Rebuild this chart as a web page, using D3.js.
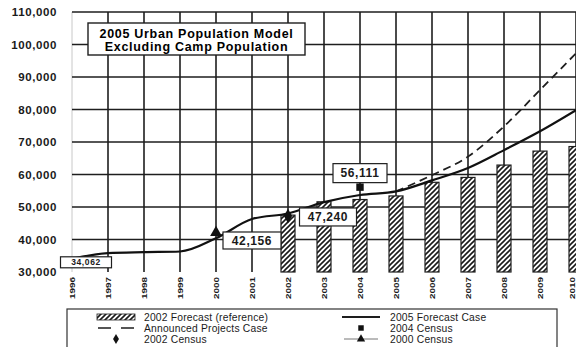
<!DOCTYPE html>
<meta charset="utf-8">
<style>
body { margin: 0; background: #fff; }
svg { font-family: "Liberation Sans", Arial, sans-serif; }
.grid line { stroke: #1e1e1e; stroke-width: 1.6px; }
.ytick { font-size: 11.5px; font-weight: bold; fill: #1a1a1a; letter-spacing: 0.6px; }
.xtick { font-size: 7.5px; font-weight: bold; fill: #1a1a1a; }
.lbl { font-weight: bold; fill: #1a1a1a; }
.leg { font-size: 10.3px; fill: #1a1a1a; letter-spacing: 0.2px; }
</style>
<body>
<svg width="576" height="347"></svg>
<script src="https://d3js.org/d3.v7.min.js"></script>
<script>

// data
var years = [1996, 1997, 1998, 1999, 2000, 2001, 2002, 2003, 2004, 2005, 2006, 2007, 2008, 2009, 2010];
var forecast2005 = [34062, 35800, 36100, 36300, 40400, 46300, 48000, 51500, 53700, 54800, 58200, 62000, 67500, 73300, 79800];
var announcedYears = [2005, 2006, 2007, 2008, 2009, 2010];
var announced = [54800, 59800, 65500, 74800, 86000, 97300];
var barYears = [2002, 2003, 2004, 2005, 2006, 2007, 2008, 2009, 2010];
var forecast2002 = [47500, 51600, 52300, 53400, 57600, 59100, 62900, 67200, 68600];
var census = [
  {year: 2000, value: 42156, sym: "triangle"},
  {year: 2002, value: 47240, sym: "diamond"},
  {year: 2004, value: 56111, sym: "square"}
];
var yTicks = [30000, 40000, 50000, 60000, 70000, 80000, 90000, 100000, 110000];

var svg = d3.select("svg");

var x = d3.scaleLinear().domain([1996, 2010]).range([72, 576]);
var y = d3.scaleLinear().domain([30000, 110000]).range([272, 12]);

// hatch pattern for the 2002 forecast bars
var defs = svg.append("defs");
var pat = defs.append("pattern")
    .attr("id", "hatch")
    .attr("patternUnits", "userSpaceOnUse")
    .attr("width", 5).attr("height", 5);
pat.append("rect").attr("width", 5).attr("height", 5).attr("fill", "#fff");
pat.append("path")
    .attr("d", "M-1,1 l2,-2 M0,5 l5,-5 M4,6 l2,-2")
    .attr("stroke", "#1a1a1a").attr("stroke-width", 1.6);

// left edge (faint)
svg.append("line")
    .attr("x1", x(1996)).attr("x2", x(1996))
    .attr("y1", y(110000)).attr("y2", y(30000))
    .attr("stroke", "#c8c8c8").attr("stroke-width", 1);

var grid = svg.append("g").attr("class", "grid");
grid.selectAll(".h")
    .data(yTicks.filter(function(d) { return d > 30000; }))
    .enter().append("line")
    .attr("x1", x(1996)).attr("x2", x(2010) + 2)
    .attr("y1", function(d) { return y(d); })
    .attr("y2", function(d) { return y(d); });
grid.selectAll(".v")
    .data(years.slice(1))
    .enter().append("line")
    .attr("x1", function(d) { return x(d); })
    .attr("x2", function(d) { return x(d); })
    .attr("y1", y(110000)).attr("y2", y(30000));

// y labels
svg.selectAll(".ytick")
    .data(yTicks)
    .enter().append("text")
    .attr("class", "ytick")
    .attr("x", 57)
    .attr("y", function(d) { return y(d) + 4; })
    .attr("text-anchor", "end")
    .text(d3.format(","));

// x labels, rotated
svg.selectAll(".xtick")
    .data(years)
    .enter().append("text")
    .attr("class", "xtick")
    .attr("transform", function(d) { return "translate(" + Math.min(x(d) + 2.7, 575) + ",277) rotate(-90)"; })
    .attr("text-anchor", "end")
    .attr("textLength", 22)
    .attr("lengthAdjust", "spacingAndGlyphs")
    .text(function(d) { return d; });

// bars
var bw = 14;
svg.selectAll(".bar")
    .data(barYears)
    .enter().append("rect")
    .attr("x", function(d) { return x(d) - bw / 2; })
    .attr("y", function(d, i) { return y(forecast2002[i]); })
    .attr("width", bw)
    .attr("height", function(d, i) { return y(30000) - y(forecast2002[i]); })
    .attr("fill", "url(#hatch)")
    .attr("stroke", "#1e1e1e").attr("stroke-width", 1.2);

// lines
var line = d3.line()
    .x(function(d) { return x(d[0]); })
    .y(function(d) { return y(d[1]); })
    .curve(d3.curveMonotoneX);

svg.append("path")
    .datum(d3.zip(announcedYears, announced))
    .attr("d", line)
    .attr("fill", "none")
    .attr("stroke", "#1e1e1e").attr("stroke-width", 1.8)
    .attr("stroke-dasharray", "8,5");

svg.append("path")
    .datum(d3.zip(years, forecast2005))
    .attr("d", line)
    .attr("fill", "none")
    .attr("stroke", "#111").attr("stroke-width", 2.2);

// census markers
var symType = {triangle: d3.symbolTriangle, diamond: d3.symbolDiamond, square: d3.symbolSquare};
var symSize = {triangle: 60, diamond: 60, square: 55};
svg.selectAll(".cen")
    .data(census)
    .enter().append("path")
    .attr("transform", function(d) { return "translate(" + x(d.year) + "," + y(d.value) + ")"; })
    .attr("d", function(d) { return d3.symbol().type(symType[d.sym]).size(symSize[d.sym])(); })
    .attr("fill", "#111");

// value labels
var labels = [
  {year: 1996, value: 34062, dx: 14, dy: 3.5, w: 51, h: 11, fs: 8.5},
  {year: 2000, value: 42156, dx: 36, dy: 8, w: 58, h: 17, fs: 12},
  {year: 2002, value: 47240, dx: 40, dy: 1, w: 57, h: 18, fs: 12},
  {year: 2004, value: 56111, dx: 0, dy: -14, w: 54, h: 19, fs: 12}
];
var lg = svg.selectAll(".vl")
    .data(labels)
    .enter().append("g")
    .attr("transform", function(d) { return "translate(" + (x(d.year) + d.dx) + "," + (y(d.value) + d.dy) + ")"; });
lg.append("rect")
    .attr("x", function(d) { return -d.w / 2; })
    .attr("y", function(d) { return -d.h / 2; })
    .attr("width", function(d) { return d.w; })
    .attr("height", function(d) { return d.h; })
    .attr("fill", "#fff").attr("stroke", "#1e1e1e").attr("stroke-width", 1.2);
lg.append("text")
    .attr("class", "lbl")
    .attr("text-anchor", "middle")
    .attr("y", function(d) { return d.fs * 0.36; })
    .style("font-size", function(d) { return d.fs + "px"; })
    .style("letter-spacing", "0.6px")
    .text(function(d) { return d3.format(",")(d.value); });

// title box
svg.append("rect")
    .attr("x", 88).attr("y", 23).attr("width", 217).attr("height", 32)
    .attr("fill", "#fff").attr("stroke", "#1e1e1e").attr("stroke-width", 1.4);
svg.append("text")
    .attr("x", 196.5).attr("y", 37.5)
    .attr("text-anchor", "middle")
    .style("font-size", "12.5px").style("font-weight", "bold").style("letter-spacing", "0.7px")
    .text("2005 Urban Population Model");
svg.append("text")
    .attr("x", 196.5).attr("y", 50.5)
    .attr("text-anchor", "middle")
    .style("font-size", "12.5px").style("font-weight", "bold").style("letter-spacing", "0.7px")
    .text("Excluding Camp Population");

// legend
svg.append("rect")
    .attr("x", 67).attr("y", 309).attr("width", 490).attr("height", 50)
    .attr("fill", "#fff").attr("stroke", "#333").attr("stroke-width", 1.2);

var legL = [
  {name: "2002 Forecast (reference)", kind: "bar"},
  {name: "Announced Projects Case", kind: "dash"},
  {name: "2002 Census", kind: "diamond"}
];
var legR = [
  {name: "2005 Forecast Case", kind: "line"},
  {name: "2004 Census", kind: "square"},
  {name: "2000 Census", kind: "triline"}
];

function drawLegend(items, sx, tx) {
  items.forEach(function(d, i) {
    var cy = 317 + i * 11;
    var g = svg.append("g");
    if (d.kind === "bar") {
      g.append("rect").attr("x", sx - 19).attr("y", cy - 3).attr("width", 38).attr("height", 6)
        .attr("fill", "url(#hatch)").attr("stroke", "#1e1e1e").attr("stroke-width", 0.8);
    } else if (d.kind === "dash") {
      g.append("line").attr("x1", sx - 18).attr("x2", sx + 18).attr("y1", cy).attr("y2", cy)
        .attr("stroke", "#1e1e1e").attr("stroke-width", 1.5).attr("stroke-dasharray", "13,10");
    } else if (d.kind === "line") {
      g.append("line").attr("x1", sx - 19).attr("x2", sx + 19).attr("y1", cy).attr("y2", cy)
        .attr("stroke", "#1e1e1e").attr("stroke-width", 1.8);
    } else if (d.kind === "triline") {
      g.append("line").attr("x1", sx - 17).attr("x2", sx + 17).attr("y1", cy).attr("y2", cy)
        .attr("stroke", "#777").attr("stroke-width", 1);
    }
    var sym = d.kind === "diamond" ? "diamond" : d.kind === "square" ? "square" : d.kind === "triline" ? "triangle" : null;
    if (sym) {
      g.append("path")
        .attr("transform", "translate(" + sx + "," + cy + ")")
        .attr("d", d3.symbol().type(symType[sym]).size(30)())
        .attr("fill", "#111");
    }
    svg.append("text").attr("class", "leg")
      .attr("x", tx).attr("y", cy + 3.7)
      .text(d.name);
  });
}
drawLegend(legL, 116, 144);
drawLegend(legR, 361, 390);

</script>
</body>
